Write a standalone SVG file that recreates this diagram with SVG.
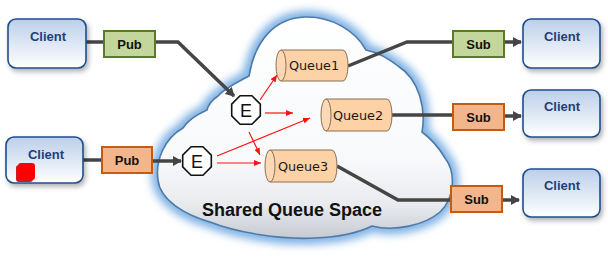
<svg xmlns="http://www.w3.org/2000/svg" width="608" height="268" viewBox="0 0 608 268">
<style>
.client rect.box{fill:url(#clientGrad);stroke:#1f4e8c;stroke-width:1.6;filter:url(#shadow)}
.client text{font-family:"Liberation Sans",Arial,sans-serif;font-weight:bold;font-size:13px;fill:#1f3f7a;text-anchor:middle}
.pg rect{fill:#c3d69b;stroke:#5a7a2a;stroke-width:2}
.po rect{fill:#f3b68c;stroke:#c55a11;stroke-width:2}
.ps text{font-family:"Liberation Sans",Arial,sans-serif;font-weight:bold;font-size:13px;fill:#111;text-anchor:middle}
.queue path.body{fill:#fcd2a6;stroke:#8e6e50;stroke-width:1}
.queue ellipse{fill:#fcd9b6;stroke:#8e6e50;stroke-width:1}
.queue text{font-family:"DejaVu Sans",sans-serif;font-size:12.8px;fill:#1a1a1a;text-anchor:middle}
.ex polygon{fill:#fff;stroke:#111;stroke-width:1.6}
.ex text{font-family:"Liberation Sans",Arial,sans-serif;font-size:18px;fill:#111;text-anchor:middle}
.dark{fill:none;stroke:#454545;stroke-width:3.5}
.red{fill:none;stroke:#ff1010;stroke-width:1.2}
</style>
<defs>
<linearGradient id="clientGrad" x1="0" y1="0" x2="0" y2="1">
<stop offset="0" stop-color="#bccfe9"/>
<stop offset="1" stop-color="#ffffff"/>
</linearGradient>
<linearGradient id="cloudGrad" x1="0" y1="0" x2="0" y2="1">
<stop offset="0" stop-color="#ffffff"/>
<stop offset="0.65" stop-color="#f7f9fb"/>
<stop offset="0.85" stop-color="#e8eaee"/>
<stop offset="1" stop-color="#c6cad1"/>
</linearGradient>
<filter id="shadow" x="-20%" y="-20%" width="150%" height="160%">
<feDropShadow dx="2" dy="3" stdDeviation="2.5" flood-color="#000" flood-opacity="0.3"/>
</filter>
<filter id="glow" x="-20%" y="-20%" width="140%" height="140%">
<feGaussianBlur stdDeviation="4"/>
</filter>
<marker id="ad" markerUnits="userSpaceOnUse" markerWidth="10" markerHeight="10" refX="8" refY="5" orient="auto">
<path d="M0,0 L9,5 L0,10 z" fill="#454545"/>
</marker>
<marker id="ar" markerUnits="userSpaceOnUse" markerWidth="8" markerHeight="6" refX="7" refY="3" orient="auto">
<path d="M0,0 L7,3 L0,6 z" fill="#ff1010"/>
</marker>
<path id="cloudShape" d="M183,128 C165,138 155,160 158,180 C160,200 185,215 210,222 C235,232 280,240 315,238 C340,237 360,232 372,226 C395,232 425,225 440,212 C455,198 456,172 445,158 C438,146 430,138 422,132 C426,110 420,80 398,66 C388,58 375,52 366,50 C355,30 330,16 305,17 C275,18 255,40 249,76 C238,82 225,88 218,96 C212,100 208,106 207,110 C198,114 188,120 183,128 Z"/>
</defs>
<rect width="608" height="268" fill="#ffffff"/>
<g id="cloud">
<use href="#cloudShape" fill="none" stroke="#79aee3" stroke-width="12" filter="url(#glow)"/>
<use href="#cloudShape" fill="url(#cloudGrad)" stroke="#4d7aa8" stroke-width="1.6"/>
<text x="292" y="216" font-family="Liberation Sans,Arial,sans-serif" font-weight="bold" font-size="18" fill="#111" text-anchor="middle">Shared Queue Space</text>
</g>
<g id="connectors">
<path class="dark" d="M86,42 H104"/>
<path class="dark" d="M155,42 H178 L234,96" marker-end="url(#ad)"/>
<path class="dark" d="M83,160 H102"/>
<path class="dark" d="M152,161 H181" marker-end="url(#ad)"/>
<path class="dark" d="M348,66 L407,42 H453"/>
<path class="dark" d="M392,115 H453"/>
<path class="dark" d="M337,166 L398,200 H451"/>
<path class="dark" d="M504,42 H521" marker-end="url(#ad)"/>
<path class="dark" d="M504,116 H521" marker-end="url(#ad)"/>
<path class="dark" d="M502,200 H519" marker-end="url(#ad)"/>
<path class="red" d="M260,100 L277,75" marker-end="url(#ar)"/>
<path class="red" d="M265,113 L293,113" marker-end="url(#ar)"/>
<path class="red" d="M249,132 L260,155" marker-end="url(#ar)"/>
<path class="red" d="M217,156 L310,118" marker-end="url(#ar)"/>
<path class="red" d="M217,163 L261,163" marker-end="url(#ar)"/>
</g>
<g id="client1" class="client"><rect class="box" x="8" y="19" width="78" height="49" rx="8"/><text x="48" y="41">Client</text></g>
<g id="client2" class="client"><rect class="box" x="6" y="137" width="77" height="46" rx="8"/><text x="46" y="159">Client</text>
<rect x="16" y="165" width="17" height="17" rx="3" fill="#c81e1e"/>
<rect x="18" y="163" width="17" height="17" rx="3" fill="#ff0000"/></g>
<g id="client3" class="client"><rect class="box" x="523" y="19" width="77" height="49" rx="8"/><text x="562" y="41">Client</text></g>
<g id="client4" class="client"><rect class="box" x="523" y="90" width="77" height="47" rx="8"/><text x="562" y="111">Client</text></g>
<g id="client5" class="client"><rect class="box" x="523" y="169" width="77" height="48" rx="8"/><text x="562" y="190">Client</text></g>
<g id="pub1" class="ps pg"><rect x="104" y="31" width="51" height="26"/><text x="129.5" y="48.5">Pub</text></g>
<g id="pub2" class="ps po"><rect x="102" y="147" width="50" height="26"/><text x="127" y="164.5">Pub</text></g>
<g id="sub1" class="ps pg"><rect x="453" y="31" width="51" height="26"/><text x="478.5" y="48.5">Sub</text></g>
<g id="sub2" class="ps po"><rect x="453" y="104" width="51" height="26"/><text x="478.5" y="122">Sub</text></g>
<g id="sub3" class="ps po"><rect x="451" y="186" width="51" height="26"/><text x="476.5" y="204">Sub</text></g>
<g id="queue1" class="queue"><path class="body" d="M281,50 H343 A5,15.5 0 0 1 343,81 H281 Z"/><ellipse cx="281" cy="65.5" rx="5" ry="15.5"/><text x="314" y="70">Queue1</text></g>
<g id="queue2" class="queue"><path class="body" d="M326,99 H387 A5,16 0 0 1 387,131 H326 Z"/><ellipse cx="326" cy="115" rx="5" ry="16"/><text x="358" y="119.5">Queue2</text></g>
<g id="queue3" class="queue"><path class="body" d="M270,150 H332 A5,16 0 0 1 332,182 H270 Z"/><ellipse cx="270" cy="166" rx="5" ry="16"/><text x="303" y="170.5">Queue3</text></g>
<g id="exchange1" class="ex"><polygon points="240.1,95.7 251.9,95.7 260.3,104.1 260.3,115.9 251.9,124.3 240.1,124.3 231.7,115.9 231.7,104.1"/><text x="246" y="116.5">E</text></g>
<g id="exchange2" class="ex"><polygon points="191.1,146.7 202.9,146.7 211.3,155.1 211.3,166.9 202.9,175.3 191.1,175.3 182.7,166.9 182.7,155.1"/><text x="197" y="167.5">E</text></g>
</svg>
